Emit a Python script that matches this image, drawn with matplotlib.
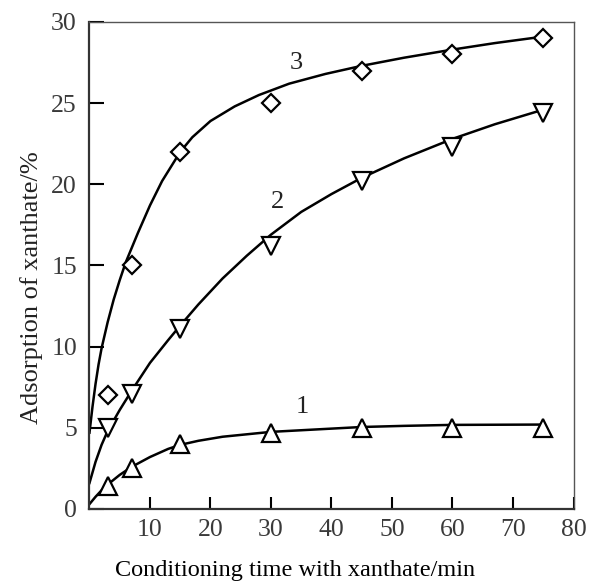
import matplotlib
matplotlib.use("Agg")
import matplotlib.pyplot as plt

plt.rcParams['font.family'] = ['Liberation Serif', 'DejaVu Serif']

# measured points (conditioning time, min / adsorption, %)
t_pts = [3, 7, 15, 30, 45, 60, 75]
ads_1 = [1.4, 2.5, 4.0, 4.7, 5.0, 5.0, 5.0]
ads_2 = [5.0, 7.1, 11.1, 16.2, 20.2, 22.3, 24.4]
ads_3 = [7.0, 15.0, 22.0, 25.0, 27.0, 28.0, 29.0]

# fitted curves
c1_t = [0, 1, 2, 3, 5, 7, 10, 13, 15, 18, 22, 26, 30, 35, 40, 45, 52, 60, 75]
c1_y = [0.3, 0.75, 1.15, 1.5, 2.1, 2.6, 3.2, 3.7, 3.95, 4.2, 4.45, 4.6, 4.75, 4.85, 4.95, 5.05, 5.12, 5.18, 5.2]
c2_t = [0, 1, 2, 3, 5, 7, 10, 13, 15, 18, 22, 26, 30, 35, 40, 45, 52, 60, 67, 75]
c2_y = [1.6, 2.9, 3.95, 4.8, 6.1, 7.3, 9.0, 10.4, 11.3, 12.6, 14.2, 15.6, 16.9, 18.3, 19.4, 20.4, 21.6, 22.8, 23.7, 24.6]
c3_t = [0, 0.5, 1, 1.5, 2, 3, 4, 5, 6, 8, 10, 12, 15, 17, 20, 24, 28, 33, 39, 45, 52, 60, 67, 75]
c3_y = [4.7, 6.3, 7.7, 8.9, 9.9, 11.5, 12.9, 14.1, 15.2, 17.0, 18.7, 20.2, 22.0, 22.9, 23.9, 24.8, 25.5, 26.2, 26.8, 27.3, 27.8, 28.3, 28.7, 29.1]

curve_labels = ['1', '2', '3']
label_pos = [(35.1, 6.3), (31.0, 18.9), (34.1, 27.5)]

x_ticks = [10, 20, 30, 40, 50, 60, 70, 80]
y_ticks = [0, 5, 10, 15, 20, 25, 30]

fig = plt.figure(figsize=(5.91, 5.88), dpi=100)
ax = fig.add_axes([0.1514, 0.1344, 0.8190, 0.8282])

for ct, cy in [(c1_t, c1_y), (c2_t, c2_y), (c3_t, c3_y)]:
    ax.plot(ct, cy, color='black', lw=1.8, solid_joinstyle='round')

mk = dict(linestyle='none', markerfacecolor='white', markeredgecolor='black',
          markeredgewidth=1.6, zorder=3)
ax.plot(t_pts, ads_1, marker='^', markersize=13, **mk)
ax.plot(t_pts, ads_2, marker='v', markersize=13, **mk)
ax.plot(t_pts, ads_3, marker='D', markersize=9.5, **mk)

for lab, (lx, ly) in zip(curve_labels, label_pos):
    ax.text(lx, ly, lab, fontsize=19, ha='center', va='center', color='#222222')

ax.set_xlim(0, 80)
ax.set_ylim(0, 30)
ax.set_xticks(x_ticks)
ax.set_yticks(y_ticks)
ax.tick_params(direction='in', labelsize=18.5, labelcolor='#3a3a3a', width=1.5)
ax.tick_params(axis='x', length=9, pad=7)
ax.tick_params(axis='y', length=11, pad=9)

for side in ['left', 'bottom']:
    ax.spines[side].set_linewidth(1.6)
    ax.spines[side].set_color('#333333')
for side in ['top', 'right']:
    ax.spines[side].set_linewidth(1.0)
    ax.spines[side].set_color('#555555')

fig.text(0.50, 0.030, 'Conditioning time with xanthate/min', fontsize=17.5,
         ha='center', va='center', color='black')
fig.text(0.054, 0.51, 'Adsorption of xanthate/%', fontsize=19, rotation=90,
         ha='center', va='center', color='#222222')

fig.savefig('out.png', dpi=100)
